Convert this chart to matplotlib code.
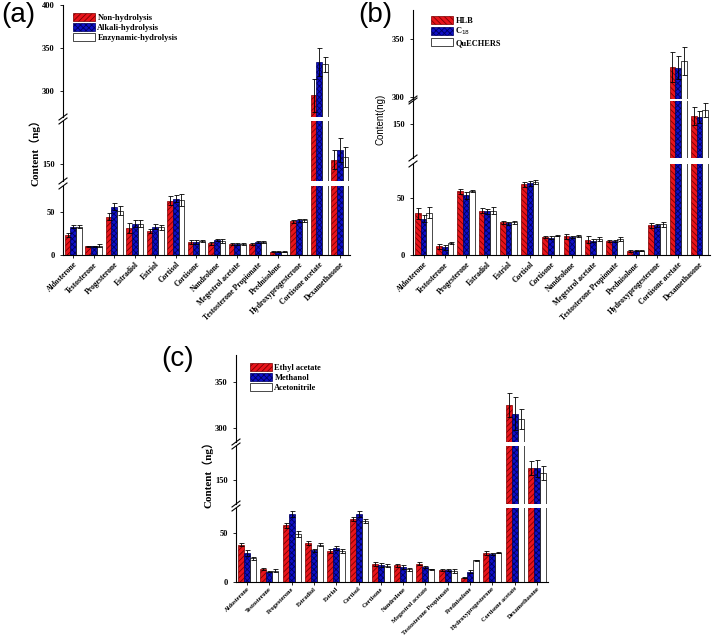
import numpy as np
import matplotlib.pyplot as plt
from matplotlib.patches import Patch
from matplotlib.lines import Line2D

W, H = 714, 636

compounds = ['Aldosterone', 'Testosterone', 'Progesterone', 'Estradiol', 'Estriol', 'Cortisol',
             'Cortisone', 'Nandrolone', 'Megestrol acetate', 'Testosterone Propionate',
             'Prednisolone', 'Hydroxyprogesterone', 'Cortisone acetate', 'Dexamethasone']

# (a) hydrolysis
a_labels = ['Non-hydrolysis', 'Alkali-hydrolysis', 'Enzynamic-hydrolysis']
a_non = [23, 10, 44.5, 31, 28, 63, 15, 13.5, 13, 13, 4, 39, 295, 155]
a_non_err = [2, 1, 4, 6, 2, 5, 2, 2, 1, 1, 0.5, 2, 19, 11]
a_alk = [33, 10, 56, 36, 33, 65, 15, 17, 13, 15, 4, 40, 334, 166]
a_alk_err = [2, 1, 4, 4, 3, 4, 2, 1, 1, 1.5, 0.5, 2, 16, 14]
a_enz = [33, 11, 51.5, 36, 32, 64, 16, 16, 13, 15, 4, 40, 331, 158]
a_enz_err = [2, 2, 5, 4, 3, 7, 1, 2, 1, 1.5, 0.5, 2, 9, 12]

# (b) clean-up
b_labels = ['HLB', 'C$_{18}$', 'QuECHERS']
b_hlb = [36.7, 7.5, 56, 39, 28.6, 62, 16, 16.5, 13.6, 12.4, 3.8, 26, 326, 157]
b_hlb_err = [5, 2, 2, 2, 1, 2, 1, 2, 3, 1, 1, 2, 13, 8]
b_c18 = [31.8, 6.6, 52.6, 38.4, 27.7, 63, 15.3, 16, 12.7, 12, 3.8, 26, 325, 156]
b_c18_err = [3, 2, 3, 2, 1, 2, 1, 1, 1, 1, 0.5, 1.5, 10, 5]
b_que = [37.3, 10.7, 56, 39, 28.6, 64, 16.8, 16.8, 14, 14, 3.8, 27, 331, 162]
b_que_err = [5, 1, 1, 3, 1, 2, 0.5, 1, 1.5, 2, 0.5, 2, 12, 6]

# (c) extraction solvent
c_labels = ['Ethyl acetate', 'Methanol', 'Acetonitrile']
c_eth = [38, 12.7, 57.5, 39.4, 31.5, 64, 17.8, 16.8, 18.5, 12.3, 4.1, 29.5, 325, 162]
c_eth_err = [2, 1, 2.5, 2, 2, 2, 2, 1.5, 1.5, 1, 0.5, 2, 13, 7]
c_met = [29.5, 10.6, 68.8, 32.2, 34.2, 68.5, 17.1, 15.4, 15.4, 12, 10.3, 28.8, 316, 162]
c_met_err = [3, 0.5, 3, 1.5, 2, 3, 2, 2, 1, 1, 1.5, 1, 18, 9]
c_ace = [24, 11.6, 48.3, 38, 31.8, 62, 16.4, 12.7, 12.7, 11.6, 21.9, 29.5, 310, 157]
c_ace_err = [1.5, 1.5, 3, 2, 2, 2, 1.5, 1.5, 0.5, 2, 0.5, 0.5, 11, 7]

plt.rcParams['hatch.linewidth'] = 0.6
SERIF = ['Liberation Serif', 'DejaVu Serif']
fig = plt.figure(figsize=(W / 100, H / 100), dpi=100)


def px_axes(left, top, right, bottom):
    return fig.add_axes([left / W, 1 - bottom / H, (right - left) / W, (bottom - top) / H])


def break_mark(x, y):
    fig.add_artist(Line2D([(x - 4) / W, (x + 4) / W], [1 - (y + 3) / H, 1 - (y - 3) / H],
                          color='black', lw=0.8))


def panel(left, right, segments, series, errs, labels, hatches, legend_xy, letter, letter_xy,
          ylabel, ylabel_xy, ylabel_font, xfont=5.5, xpad=2):
    x = np.arange(len(compounds))
    w = 0.27
    faces = ['#e8141b', '#1010c8', 'white']
    edges = ['#7a0000', '#000060', 'black']
    axes = []
    for i, (lo, hi, top, bot, ticks) in enumerate(segments):
        ax = px_axes(left, top, right, bot)
        for k in range(3):
            ax.bar(x + (k - 1) * w, series[k], w, color=faces[k], edgecolor=edges[k],
                   hatch=hatches[k], linewidth=0.5)
            ax.errorbar(x + (k - 1) * w, series[k], yerr=errs[k], fmt='none', ecolor='black',
                        elinewidth=0.6, capsize=1.8, capthick=0.6)
        ax.set_ylim(lo, hi)
        ax.set_xlim(-0.5, len(compounds) - 0.5)
        ax.set_yticks(ticks)
        ax.tick_params(axis='y', direction='out', length=2.5, width=0.6, labelsize=6)
        for lab in ax.get_yticklabels():
            lab.set_family(SERIF)
            lab.set_fontweight('bold')
        ax.spines['top'].set_visible(False)
        ax.spines['right'].set_visible(False)
        ax.spines['left'].set_linewidth(0.8)
        ax.set_facecolor('none')
        if i == 0:
            ax.spines['bottom'].set_linewidth(0.8)
            ax.set_xticks(x)
            ax.set_xticklabels(compounds, rotation=45, ha='right', rotation_mode='anchor',
                               fontsize=xfont, family=SERIF, fontweight='bold')
            ax.tick_params(axis='x', direction='out', length=2, width=0.6, pad=xpad)
        else:
            ax.spines['bottom'].set_visible(False)
            ax.set_xticks([])
        axes.append(ax)
    # break marks between segments
    for i in range(len(segments) - 1):
        break_mark(left, segments[i][2])
        break_mark(left, segments[i + 1][3])
    handles = [Patch(facecolor=faces[k], edgecolor=edges[k], hatch=hatches[k], linewidth=0.5)
               for k in range(3)]
    fig.legend(handles, labels, loc='upper left',
               bbox_to_anchor=(legend_xy[0] / W, 1 - legend_xy[1] / H), frameon=False,
               prop={'family': SERIF, 'weight': 'bold', 'size': 6}, handlelength=2.6,
               handleheight=1.1, labelspacing=0.12, borderpad=0, handletextpad=0.3)
    fig.text(letter_xy[0] / W, 1 - letter_xy[1] / H, letter, fontsize=20,
             family='Liberation Sans', va='top', ha='left')
    fig.text(ylabel_xy[0] / W, 1 - ylabel_xy[1] / H, ylabel, rotation=90, ha='center',
             va='center', **ylabel_font)
    return axes


panel(63, 350,
      [(0, 80, 186, 255, [0, 50]), (130, 200, 121, 181, [150]), (270, 400, 5, 117, [300, 350, 400])],
      [a_non, a_alk, a_enz], [a_non_err, a_alk_err, a_enz_err], a_labels,
      ['//////', 'xxxxxx', ''], (69, 9), '(a)', (1, 2),
      'Content（ng）', (35, 150),
      dict(family=['Liberation Serif', 'Noto Sans CJK SC'], fontweight='bold', fontsize=8))

panel(413, 710,
      [(0, 80, 164, 255, [0, 50]), (120, 170, 101, 158, [150]), (298, 375, 10, 99, [300, 350])],
      [b_hlb, b_c18, b_que], [b_hlb_err, b_c18_err, b_que_err], b_labels,
      ['\\\\\\\\\\\\', 'xxxxxx', ''], (427, 12), '(b)', (358, 2),
      'Content(ng)', (381, 119),
      dict(family=['Liberation Sans Narrow', 'Liberation Sans'], fontsize=7))

panel(236, 548,
      [(0, 75, 508, 582, [0, 50]), (125, 185, 446, 504, [150]), (285, 380, 355, 442, [300, 350])],
      [c_eth, c_met, c_ace], [c_eth_err, c_met_err, c_ace_err], c_labels,
      ['//////', 'xxxxxx', ''], (246, 359), '(c)', (161, 346),
      'Content（ng）', (208, 472),
      dict(family=['Liberation Serif', 'Noto Sans CJK SC'], fontweight='bold', fontsize=8),
      xfont=4.6, xpad=1)

fig.savefig('out.png', dpi=100)
